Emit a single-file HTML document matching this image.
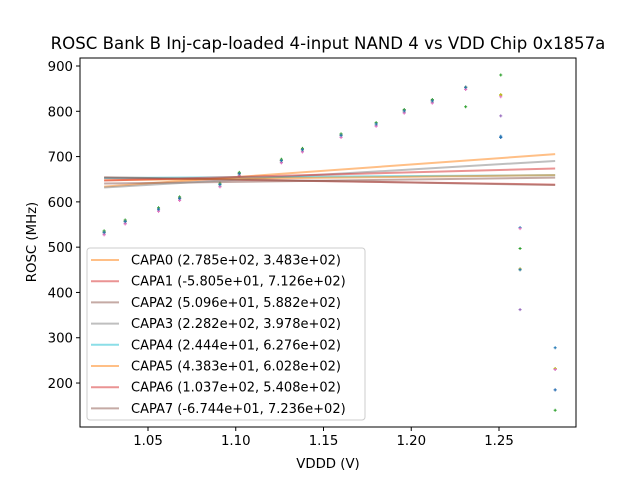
<!DOCTYPE html>
<html><head><meta charset="utf-8"><style>
body{margin:0;background:#fff;font-family:"DejaVu Sans","Liberation Sans",sans-serif}
svg text{font-family:"DejaVu Sans","Liberation Sans",sans-serif;fill:#000}
</style></head><body>
<svg id="chart" width="640" height="480" xmlns="http://www.w3.org/2000/svg">
<rect width="640" height="480" fill="#fff"/>
<text x="328" y="49" font-size="16.6" text-anchor="middle">ROSC Bank B Inj-cap-loaded 4-input NAND 4 vs VDD Chip 0x1857a</text>
<g id="plot"></g>
<text x="328" y="468" font-size="13.3" text-anchor="middle">VDDD (V)</text>
<text x="36" y="242" font-size="13.3" text-anchor="middle" transform="rotate(-90 36 242)">ROSC (MHz)</text>
</svg>
<script>
const xVals=[1.025,1.037,1.056,1.068,1.091,1.102,1.126,1.138,1.160,1.180,1.196,1.212,1.231,1.251,1.262,1.282];
const base=[533,557,584,608,638,662,691,715,747,772,801,823,853];
const s0=base.concat([745,543,278]);
const s1=base.concat([835,450,232]);
const s2=[536,560,587,611,641,665,694,718,750,775,804,826,810,880,497,140];
const s3=base.concat([790,362,185]);
const s4=[529,553,580,604,634,658,687,711,743,768,797,819,849,742,452,230];
const s5=base.concat([837,452,232]);
const s6=[527,551,579,603,633,657,686,710,742,767,796,818,848,832,541,230];
const s7=base.concat([742,450,185]);
const series=[s0,s1,s2,s3,s4,s5,s6,s7];
const scatterColors=["#1f77b4","#bcbd22","#2ca02c","#9467bd","#9467bd","#bcbd22","#e377c2","#1f77b4"];
const fitLabels=["CAPA0 (2.785e+02, 3.483e+02)","CAPA1 (-5.805e+01, 7.126e+02)","CAPA2 (5.096e+01, 5.882e+02)","CAPA3 (2.282e+02, 3.978e+02)","CAPA4 (2.444e+01, 6.276e+02)","CAPA5 (4.383e+01, 6.028e+02)","CAPA6 (1.037e+02, 5.408e+02)","CAPA7 (-6.744e+01, 7.236e+02)"];
const slopes=[278.5,-58.05,50.96,228.2,24.44,43.83,103.7,-67.44];
const intercepts=[348.3,712.6,588.2,397.8,627.6,602.8,540.8,723.6];
const lineColors=["#ff7f0e","#d62728","#8c564b","#7f7f7f","#17becf","#ff7f0e","#d62728","#8c564b"];
const xTicks=[1.05,1.10,1.15,1.20,1.25];
const yTicks=[200,300,400,500,600,700,800,900];
const NS="http://www.w3.org/2000/svg";
const L=80,R=576,T=58,B=427;
const xs=v=>148+(v-1.05)*1755;
const ys=v=>66+(900-v)*0.4529;
const g=document.getElementById('plot');
function mk(t,a){const e=document.createElementNS(NS,t);for(const k in a)e.setAttribute(k,a[k]);g.appendChild(e);return e;}
series.forEach((s,i)=>{s.forEach((v,j)=>{
 const cx=xs(xVals[j]),cy=ys(v);
 const c=mk('path',{d:`M${cx-1.5},${cy}H${cx+1.5}M${cx},${cy-1.5}V${cy+1.5}`,stroke:scatterColors[i],'stroke-width':1});
 
 
});});
const x0=xVals[0],x1=xVals[xVals.length-1];
slopes.forEach((a,i)=>{
 const l=mk('line',{x1:xs(x0),y1:ys(a*x0+intercepts[i]),x2:xs(x1),y2:ys(a*x1+intercepts[i]),stroke:lineColors[i],'stroke-width':2,'stroke-opacity':0.5});
 
 
});
const fr=mk('rect',{x:L,y:T,width:R-L,height:B-T,fill:'none',stroke:'#000','stroke-width':1});


xTicks.forEach(v=>{
 mk('line',{x1:xs(v),y1:B,x2:xs(v),y2:B+4,stroke:'#000'});
 const t=mk('text',{x:xs(v),y:B+18,'font-size':13.3,'text-anchor':'middle'});t.textContent=v.toFixed(2);
 
 
});
yTicks.forEach(v=>{
 mk('line',{x1:L-4,y1:ys(v),x2:L,y2:ys(v),stroke:'#000'});
 const t=mk('text',{x:L-7,y:ys(v)+5,'font-size':13.3,'text-anchor':'end'});t.textContent=v;
 
 
});
const lg=mk('rect',{x:87,y:248,width:278,height:172,rx:3,fill:'#fff','fill-opacity':0.8,stroke:'#ccc'});


fitLabels.forEach((lab,i)=>{
 const y=260+i*21.2;
 mk('line',{x1:91,y1:y,x2:119,y2:y,stroke:lineColors[i],'stroke-width':2,'stroke-opacity':0.5});
 const t=mk('text',{x:131,y:y+4.5,'font-size':13});t.textContent=lab;
 
 
});
</script>
</body></html>
